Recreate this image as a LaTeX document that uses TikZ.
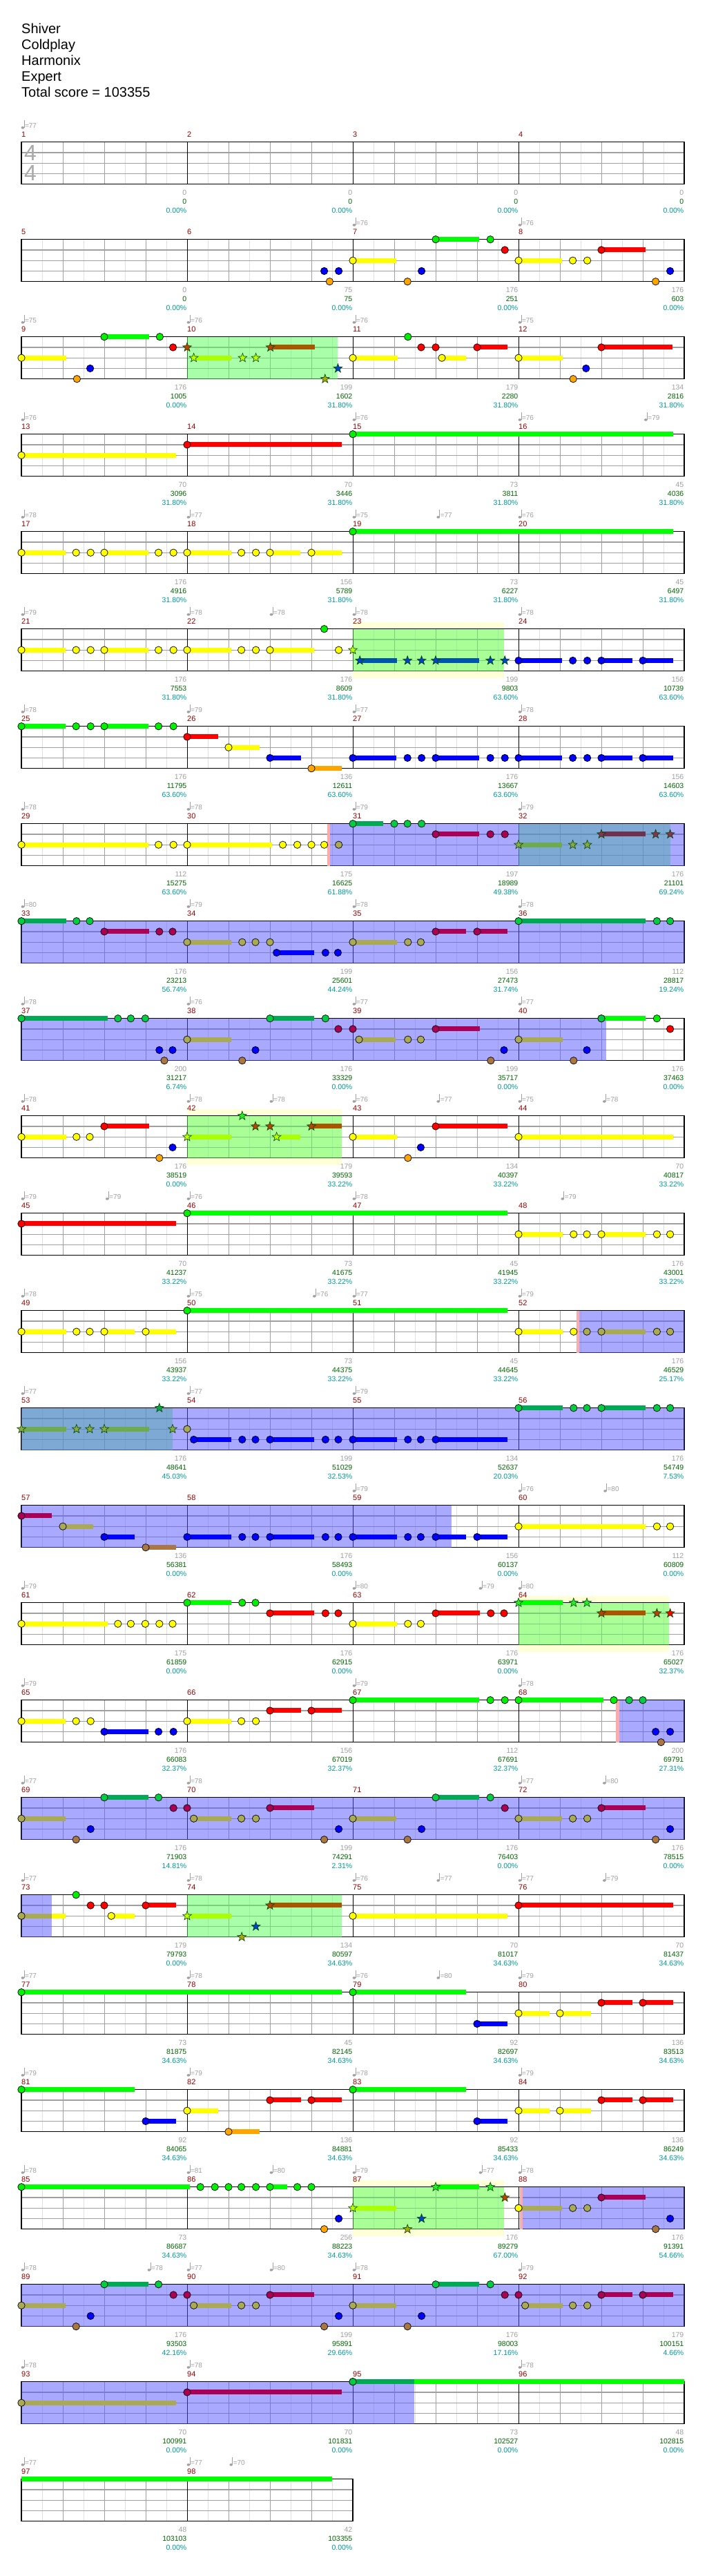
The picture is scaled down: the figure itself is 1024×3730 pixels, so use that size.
\documentclass[tikz,border=0pt]{standalone}
\usepackage{fontspec}
\setmainfont{Liberation Sans}
\usepackage{tikz}

% lane colours: N plain, O overdrive, S star phrase, T star phrase in overdrive
\definecolor{gemN0}{HTML}{00F000}\definecolor{gemN1}{HTML}{FF0000}\definecolor{gemN2}{HTML}{FFFF00}
\definecolor{gemN3}{HTML}{0000FF}\definecolor{gemN4}{HTML}{FFA500}
\definecolor{gemO0}{HTML}{00CC44}\definecolor{gemO1}{HTML}{AA0055}\definecolor{gemO2}{HTML}{AAAA55}
\definecolor{gemO3}{HTML}{0000FF}\definecolor{gemO4}{HTML}{AA7744}
\definecolor{gemS0}{HTML}{22EE22}\definecolor{gemS1}{HTML}{BB4400}\definecolor{gemS2}{HTML}{BBFF00}
\definecolor{gemS3}{HTML}{0044CC}\definecolor{gemS4}{HTML}{AAAA00}
\definecolor{gemT0}{HTML}{00AA44}\definecolor{gemT1}{HTML}{883355}\definecolor{gemT2}{HTML}{88AA44}
\definecolor{gemT3}{HTML}{0033AA}\definecolor{gemT4}{HTML}{888844}
\definecolor{susN0}{HTML}{00FF00}\definecolor{susN1}{HTML}{FF0000}\definecolor{susN2}{HTML}{FFFF00}
\definecolor{susN3}{HTML}{0000FF}\definecolor{susN4}{HTML}{FFA500}
\definecolor{susO0}{HTML}{00AA55}\definecolor{susO1}{HTML}{AA0055}\definecolor{susO2}{HTML}{AAAA55}
\definecolor{susO3}{HTML}{0000FF}\definecolor{susO4}{HTML}{AA7744}
\definecolor{susS0}{HTML}{00FF00}\definecolor{susS1}{HTML}{AA5500}\definecolor{susS2}{HTML}{AAFF00}
\definecolor{susS3}{HTML}{0055AA}\definecolor{susS4}{HTML}{AAAA00}
\definecolor{susT0}{HTML}{00AA55}\definecolor{susT1}{HTML}{6E3250}\definecolor{susT2}{HTML}{6EAA50}
\definecolor{susT3}{HTML}{0044AA}\definecolor{susT4}{HTML}{888844}
\definecolor{gridlight}{HTML}{E0E0E0}
\definecolor{gridmid}{HTML}{A0A0A0}
\definecolor{spgreen}{HTML}{55FF55}
\definecolor{odblue}{HTML}{5555FF}
\definecolor{bandyellow}{HTML}{FFFFD8}
\definecolor{odpink}{HTML}{FFAAAA}
\definecolor{stargreen}{HTML}{004400}
\definecolor{barred}{HTML}{990000}
\definecolor{labelgray}{HTML}{A0A0A0}
\definecolor{scoregreen}{HTML}{006600}
\definecolor{pctteal}{HTML}{009999}
\definecolor{siggray}{HTML}{AAAAAA}

\tikzset{
  halfline/.style={draw=gridlight, line width=0.8pt},
  beatline/.style={draw=gridmid, line width=1pt},
  laneline/.style={draw=gridmid, line width=1.3pt},
  barline/.style={draw=black, line width=0.9pt},
  staffbox/.style={draw=black, line width=1.4pt},
  gemline/.style={draw=black, line width=0.7pt},
  starline/.style={draw=stargreen, line width=0.6pt},
  spfill/.style={fill=spgreen, fill opacity=0.5},
  odfill/.style={fill=odblue, fill opacity=0.5},
  titletxt/.style={anchor=base west, inner sep=0pt, font=\fontsize{20}{24}\selectfont},
  barnum/.style={anchor=base west, inner sep=0pt, text=barred, font=\fontsize{11}{13}\selectfont},
  gaintxt/.style={anchor=base east, inner sep=0pt, text=labelgray, font=\fontsize{10.5}{12}\selectfont},
  scoretxt/.style={anchor=base east, inner sep=0pt, text=scoregreen, font=\fontsize{10.5}{12}\selectfont},
  pcttxt/.style={anchor=base east, inner sep=0pt, text=pctteal, font=\fontsize{10.5}{12}\selectfont},
  tempotxt/.style={anchor=base west, inner sep=0pt, text=labelgray, font=\fontsize{10}{12}\selectfont},
  sigtxt/.style={inner sep=0pt, text=siggray, font=\fontsize{32}{32}\selectfont},
  rowat/.style={shift={(31,{205.7+141*(#1-1)})}}
}

% staff of #1 bars
\newcommand{\staffgrid}[1]{%
  \pgfmathtruncatemacro\hb{4*#1-1}
  \foreach \k in {0,...,\hb} {\draw[halfline] ({30+60*\k},0) -- ({30+60*\k},61);}
  \foreach \k in {1,...,\hb} {\draw[beatline] ({60*\k},0) -- ({60*\k},61);}
  \foreach \y in {15.25,30.5,45.75} {\draw[laneline] (0,\y) -- ({240*#1},\y);}
  \pgfmathtruncatemacro\mb{#1-1}
  \foreach \k in {1,...,\mb} {\draw[barline] ({240*\k},0) -- ({240*\k},61);}
  \draw[staffbox] (0,0) rectangle ({240*#1},61);
}
\newcommand{\band}[2]{\fill[bandyellow] ({#1*60},-10) rectangle ({#2*60},71);}
\newcommand{\spzone}[2]{\fill[spfill] ({#1*60},0) rectangle ({#2*60},61);}
\newcommand{\odzone}[2]{\fill[odfill] ({#1*60},0) rectangle ({#2*60},61);}
\newcommand{\odmark}[1]{\fill[odpink] ({#1*60-4.5},0) rectangle ({#1*60},61);}
% gems: mode, lane, beat (, end of sustain)
\newcommand{\gem}[3]{\filldraw[gemline, fill=gem#1#2] ({#3*60},{#2*15.25}) circle[radius=5.2];}
\newcommand{\gemsus}[4]{\fill[sus#1#2] ({#3*60},{#2*15.25-3.5}) rectangle ({#4*60},{#2*15.25+3.5});\gem{#1}{#2}{#3}}
\newcommand{\stg}[3]{\filldraw[starline, fill=gem#1#2] ({#3*60},{#2*15.25})
  +(-90:6.8) -- +(-54:2.8) -- +(-18:6.8) -- +(18:2.8) -- +(54:6.8) -- +(90:2.8)
  -- +(126:6.8) -- +(162:2.8) -- +(198:6.8) -- +(234:2.8) -- cycle;}
\newcommand{\stgsus}[4]{\fill[sus#1#2] ({#3*60},{#2*15.25-3.5}) rectangle ({#4*60},{#2*15.25+3.5});\stg{#1}{#2}{#3}}
\newcounter{tempono}
\newcommand{\tempo}[2]{%
  \stepcounter{tempono}%
  \fill[labelgray] ({#1*60+1.9},-20.8) ellipse[x radius=2.3, y radius=1.8];
  \draw[labelgray, line width=0.7pt] ({#1*60+4},-21) -- ({#1*60+4},-31.3);
  \node[tempotxt] (tempo\thetempono) at ({#1*60+4.8},-20.6) {=#2};
}
\newcommand{\barlabels}[2]{%
  \foreach \gainv/\scorev/\pctv [count=\k from 0] in {#2} {
    \pgfmathtruncatemacro\barno{#1+\k}
    \node[barnum] (bar\barno) at ({240*\k},-7.3) {\barno};
    \node[gaintxt] (gain\barno) at ({240*\k+239.5},76.7) {\gainv};
    \node[scoretxt] (score\barno) at ({240*\k+239.5},89.7) {\scorev};
    \node[pcttxt] (pct\barno) at ({240*\k+239.5},102.7) {\pctv};
  }
}

\begin{document}
\begin{tikzpicture}[x=1pt, y=-1pt]
  \useasboundingbox[fill=white] (0,0) rectangle (1024,3730);
  \node[titletxt] (song) at (31,49) {Shiver};
  \node[titletxt] (artist) at (31,72) {Coldplay};
  \node[titletxt] (charter) at (31,95) {Harmonix};
  \node[titletxt] (level) at (31,118) {Expert};
  \node[titletxt] (total) at (31,141) {Total score = 103355};

  % bars 1-4
  \begin{scope}[rowat=1]
    \staffgrid{4}
    \node[sigtxt] (sigtop) at (13,15.5) {4};
    \node[sigtxt] (sigbot) at (13,44.5) {4};
    \tempo{0}{77}
    \barlabels{1}{0/0/0.00\%,0/0/0.00\%,0/0/0.00\%,0/0/0.00\%}
  \end{scope}

  % bars 5-8
  \begin{scope}[rowat=2]
    \staffgrid{4}
    \gem{N}{3}{7.31}\gem{N}{4}{7.44}\gem{N}{3}{7.66}
    \gemsus{N}{2}{8}{9.05}\gem{N}{4}{9.32}\gem{N}{3}{9.66}
    \gemsus{N}{0}{10}{11.05}\gem{N}{0}{11.32}\gem{N}{1}{11.67}
    \gemsus{N}{2}{12}{13.05}\gem{N}{2}{13.31}\gem{N}{2}{13.66}
    \gemsus{N}{1}{14}{15.06}\gem{N}{4}{15.31}\gem{N}{3}{15.66}
    \tempo{8}{76}\tempo{12}{76}
    \barlabels{5}{0/0/0.00\%,75/75/0.00\%,176/251/0.00\%,176/603/0.00\%}
  \end{scope}

  % bars 9-12
  \begin{scope}[rowat=3]
    \staffgrid{4}
    \spzone{4}{7.64}
    \gemsus{N}{2}{0}{1.08}\gem{N}{4}{1.34}\gem{N}{3}{1.66}
    \gemsus{N}{0}{2}{3.08}\gem{N}{0}{3.34}\gem{N}{1}{3.66}
    \stg{S}{1}{4}\stgsus{S}{2}{4.16}{5.07}\stg{S}{2}{5.34}\stg{S}{2}{5.66}
    \stgsus{S}{1}{6.01}{7.08}\stg{S}{4}{7.33}\stg{S}{3}{7.64}
    \gemsus{N}{2}{8}{9.08}\gem{N}{0}{9.33}\gem{N}{1}{9.65}\gem{N}{1}{10}
    \gemsus{N}{2}{10.15}{10.74}\gemsus{N}{1}{11}{11.74}
    \gemsus{N}{2}{12}{13.07}\gem{N}{4}{13.32}\gem{N}{3}{13.63}\gemsus{N}{1}{14}{15.72}
    \tempo{0}{75}\tempo{4}{76}\tempo{8}{76}\tempo{12}{75}
    \barlabels{9}{176/1005/0.00\%,199/1602/31.80\%,179/2280/31.80\%,134/2816/31.80\%}
  \end{scope}

  % bars 13-16
  \begin{scope}[rowat=4]
    \staffgrid{4}
    \gemsus{N}{2}{0}{3.73}\gemsus{N}{1}{4}{7.74}\gemsus{N}{0}{8}{15.73}
    \tempo{0}{76}\tempo{8}{76}\tempo{12}{76}\tempo{15.04}{79}
    \barlabels{13}{70/3096/31.80\%,70/3446/31.80\%,73/3811/31.80\%,45/4036/31.80\%}
  \end{scope}

  % bars 17-20
  \begin{scope}[rowat=5]
    \staffgrid{4}
    \gemsus{N}{2}{0}{1.06}\gem{N}{2}{1.32}\gem{N}{2}{1.67}
    \gemsus{N}{2}{2}{3.06}\gem{N}{2}{3.31}\gem{N}{2}{3.67}
    \gemsus{N}{2}{4}{5.06}\gem{N}{2}{5.31}\gem{N}{2}{5.66}
    \gemsus{N}{2}{6}{6.74}\gemsus{N}{2}{7}{7.74}
    \gemsus{N}{0}{8}{15.73}
    \tempo{0}{78}\tempo{4}{77}\tempo{8}{75}\tempo{10.03}{77}\tempo{12}{76}
    \barlabels{17}{176/4916/31.80\%,156/5789/31.80\%,73/6227/31.80\%,45/6497/31.80\%}
  \end{scope}

  % bars 21-24
  \begin{scope}[rowat=6]
    \band{8}{11.65}
    \staffgrid{4}
    \spzone{8}{11.65}
    \gemsus{N}{2}{0}{1.06}\gem{N}{2}{1.32}\gem{N}{2}{1.67}
    \gemsus{N}{2}{2}{3.06}\gem{N}{2}{3.31}\gem{N}{2}{3.67}
    \gemsus{N}{2}{4}{5.06}\gem{N}{2}{5.31}\gem{N}{2}{5.66}
    \gemsus{N}{2}{6}{7.06}\gem{N}{0}{7.31}\gem{N}{2}{7.66}
    \stg{S}{2}{8}\stgsus{S}{3}{8.17}{9.07}\stg{S}{3}{9.32}\stg{S}{3}{9.66}
    \stgsus{S}{3}{10}{11.05}\stg{S}{3}{11.32}\stg{S}{3}{11.67}
    \gemsus{N}{3}{12}{13.05}\gem{N}{3}{13.31}\gem{N}{3}{13.66}
    \gemsus{N}{3}{14}{14.75}\gemsus{N}{3}{15}{15.73}
    \tempo{0}{79}\tempo{4}{78}\tempo{6}{78}\tempo{8}{78}\tempo{12}{78}
    \barlabels{21}{176/7553/31.80\%,176/8609/31.80\%,199/9803/63.60\%,156/10739/63.60\%}
  \end{scope}

  % bars 25-28
  \begin{scope}[rowat=7]
    \staffgrid{4}
    \gemsus{N}{0}{0}{1.06}\gem{N}{0}{1.32}\gem{N}{0}{1.67}
    \gemsus{N}{0}{2}{3.06}\gem{N}{0}{3.31}\gem{N}{0}{3.67}
    \gemsus{N}{1}{4}{4.75}\gemsus{N}{2}{5}{5.75}\gemsus{N}{3}{6}{6.75}\gemsus{N}{4}{7}{7.74}
    \gemsus{N}{3}{8}{9.05}\gem{N}{3}{9.32}\gem{N}{3}{9.66}
    \gemsus{N}{3}{10}{11.05}\gem{N}{3}{11.32}\gem{N}{3}{11.67}
    \gemsus{N}{3}{12}{13.05}\gem{N}{3}{13.31}\gem{N}{3}{13.66}
    \gemsus{N}{3}{14}{14.75}\gemsus{N}{3}{15}{15.73}
    \tempo{0}{78}\tempo{4}{79}\tempo{8}{77}\tempo{12}{78}
    \barlabels{25}{176/11795/63.60\%,136/12611/63.60\%,176/13667/63.60\%,156/14603/63.60\%}
  \end{scope}

  % bars 29-32
  \begin{scope}[rowat=8]
    \staffgrid{4}
    \spzone{12}{15.66}
    \odzone{7.45}{16}\odmark{7.45}
    \gemsus{N}{2}{0}{3.06}\gem{N}{2}{3.31}\gem{N}{2}{3.67}
    \gemsus{N}{2}{4}{6.05}\gem{N}{2}{6.31}\gem{N}{2}{6.66}\gem{N}{2}{7}\gem{N}{2}{7.31}\gem{O}{2}{7.66}
    \gemsus{O}{0}{8}{8.73}\gem{O}{0}{9}\gem{O}{0}{9.32}\gem{O}{0}{9.66}
    \gemsus{O}{1}{10}{11.05}\gem{O}{1}{11.32}\gem{O}{1}{11.67}
    \stgsus{T}{2}{12}{13.05}\stg{T}{2}{13.31}\stg{T}{2}{13.66}
    \stgsus{T}{1}{14}{15.06}\stg{T}{1}{15.31}\stg{T}{1}{15.66}
    \tempo{0}{78}\tempo{4}{78}\tempo{8}{79}\tempo{12}{79}
    \barlabels{29}{112/15275/63.60\%,175/16625/61.88\%,197/18989/49.38\%,176/21101/69.24\%}
  \end{scope}

  % bars 33-36
  \begin{scope}[rowat=9]
    \staffgrid{4}
    \odzone{0}{16}
    \gemsus{O}{0}{0}{1.08}\gem{O}{0}{1.33}\gem{O}{0}{1.65}
    \gemsus{O}{1}{2}{3.08}\gem{O}{1}{3.33}\gem{O}{1}{3.65}
    \gemsus{O}{2}{4}{5.07}\gem{O}{2}{5.33}\gem{O}{2}{5.65}\gem{O}{2}{6}
    \gemsus{O}{3}{6.16}{7.06}\gem{O}{3}{7.34}\gem{O}{3}{7.64}
    \gemsus{O}{2}{8}{9.07}\gem{O}{2}{9.33}\gem{O}{2}{9.64}
    \gemsus{O}{1}{10}{10.74}\gemsus{O}{1}{11}{11.74}
    \gemsus{O}{0}{12}{15.07}\gem{O}{0}{15.34}\gem{O}{0}{15.66}
    \tempo{0}{80}\tempo{4}{79}\tempo{8}{78}\tempo{12}{78}
    \barlabels{33}{176/23213/56.74\%,199/25601/44.24\%,156/27473/31.74\%,112/28817/19.24\%}
  \end{scope}

  % bars 37-40
  \begin{scope}[rowat=10]
    \staffgrid{4}
    \odzone{0}{14.12}
    \gemsus{O}{0}{0}{2.08}\gem{O}{0}{2.33}\gem{O}{0}{2.64}\gem{O}{0}{2.99}
    \gem{O}{3}{3.33}\gem{O}{4}{3.45}\gem{O}{3}{3.65}
    \gemsus{O}{2}{4}{5.07}\gem{O}{4}{5.33}\gem{O}{3}{5.65}
    \gemsus{O}{0}{6}{7.06}\gem{O}{0}{7.34}\gem{O}{1}{7.65}\gem{O}{1}{8}
    \gemsus{O}{2}{8.15}{9.04}\gem{O}{2}{9.33}\gem{O}{2}{9.64}
    \gemsus{O}{1}{10}{11.07}\gem{O}{4}{11.33}\gem{O}{3}{11.65}
    \gemsus{O}{2}{12}{13.07}\gem{O}{4}{13.33}\gem{O}{3}{13.65}
    \gemsus{N}{0}{14}{15.07}\gem{O}{0}{14}\gem{N}{0}{15.34}\gem{N}{1}{15.66}
    \tempo{0}{78}\tempo{4}{76}\tempo{8}{77}\tempo{12}{77}
    \barlabels{37}{200/31217/6.74\%,176/33329/0.00\%,199/35717/0.00\%,176/37463/0.00\%}
  \end{scope}

  % bars 41-44
  \begin{scope}[rowat=11]
    \band{4}{7.73}
    \staffgrid{4}
    \spzone{4}{7.73}
    \gemsus{N}{2}{0}{1.08}\gem{N}{2}{1.33}\gem{N}{2}{1.65}
    \gemsus{N}{1}{2}{3.08}\gem{N}{4}{3.33}\gem{N}{3}{3.65}
    \stgsus{S}{2}{4}{5.07}\stg{S}{0}{5.33}\stg{S}{1}{5.65}\stg{S}{1}{6}
    \stgsus{S}{2}{6.16}{6.74}\stgsus{S}{1}{7}{7.74}
    \gemsus{N}{2}{8}{9.07}\gem{N}{4}{9.33}\gem{N}{3}{9.64}
    \gemsus{N}{1}{10}{11.74}\gemsus{N}{2}{12}{15.73}
    \tempo{0}{78}\tempo{4}{78}\tempo{6}{78}\tempo{8}{76}\tempo{10.03}{77}\tempo{12}{75}\tempo{14.04}{78}
    \barlabels{41}{176/38519/0.00\%,179/39593/33.22\%,134/40397/33.22\%,70/40817/33.22\%}
  \end{scope}

  % bars 45-48
  \begin{scope}[rowat=12]
    \staffgrid{4}
    \gemsus{N}{1}{0}{3.73}\gemsus{N}{0}{4}{11.74}
    \gemsus{N}{2}{12}{13.07}\gem{N}{2}{13.33}\gem{N}{2}{13.65}
    \gemsus{N}{2}{14}{15.07}\gem{N}{2}{15.34}\gem{N}{2}{15.66}
    \tempo{0}{79}\tempo{2.04}{79}\tempo{4}{76}\tempo{8}{78}\tempo{13.03}{79}
    \barlabels{45}{70/41237/33.22\%,73/41675/33.22\%,45/41945/33.22\%,176/43001/33.22\%}
  \end{scope}

  % bars 49-52
  \begin{scope}[rowat=13]
    \staffgrid{4}
    \odzone{13.47}{16}\odmark{13.47}
    \gemsus{N}{2}{0}{1.08}\gem{N}{2}{1.33}\gem{N}{2}{1.65}
    \gemsus{N}{2}{2}{2.73}\gemsus{N}{2}{3}{3.73}
    \gemsus{N}{0}{4}{11.74}
    \gemsus{N}{2}{12}{13.07}\gem{N}{2}{13.33}\gem{O}{2}{13.65}
    \gemsus{O}{2}{14}{15.07}\gem{O}{2}{15.34}\gem{O}{2}{15.66}
    \tempo{0}{78}\tempo{4}{75}\tempo{7.04}{76}\tempo{8}{77}\tempo{12}{79}
    \barlabels{49}{156/43937/33.22\%,73/44375/33.22\%,45/44645/33.22\%,176/46529/25.17\%}
  \end{scope}

  % bars 53-56
  \begin{scope}[rowat=14]
    \staffgrid{4}
    \spzone{0}{3.65}
    \odzone{0}{16}
    \stgsus{T}{2}{0}{1.08}\stg{T}{2}{1.33}\stg{T}{2}{1.65}
    \stgsus{T}{2}{2}{3.08}\stg{T}{0}{3.33}\stg{T}{2}{3.65}
    \gem{O}{2}{4}
    \gemsus{O}{3}{4.16}{5.06}\gem{O}{3}{5.33}\gem{O}{3}{5.65}
    \gemsus{O}{3}{6}{7.06}\gem{O}{3}{7.34}\gem{O}{3}{7.65}
    \gemsus{O}{3}{8}{9.07}\gem{O}{3}{9.33}\gem{O}{3}{9.64}
    \gemsus{O}{3}{10}{11.74}
    \gemsus{O}{0}{12}{13.07}\gem{O}{0}{13.33}\gem{O}{0}{13.65}
    \gemsus{O}{0}{14}{15.07}\gem{O}{0}{15.34}\gem{O}{0}{15.66}
    \tempo{0}{77}\tempo{4}{77}\tempo{8}{79}
    \barlabels{53}{176/48641/45.03\%,199/51029/32.53\%,134/52637/20.03\%,176/54749/7.53\%}
  \end{scope}

  % bars 57-60
  \begin{scope}[rowat=15]
    \staffgrid{4}
    \odzone{0}{10.39}
    \gemsus{O}{1}{0}{0.74}\gemsus{O}{2}{1}{1.74}\gemsus{O}{3}{2}{2.74}\gemsus{O}{4}{3}{3.74}
    \gemsus{O}{3}{4}{5.07}\gem{O}{3}{5.33}\gem{O}{3}{5.65}
    \gemsus{O}{3}{6}{7.06}\gem{O}{3}{7.34}\gem{O}{3}{7.65}
    \gemsus{O}{3}{8}{9.07}\gem{O}{3}{9.33}\gem{O}{3}{9.64}
    \gemsus{O}{3}{10}{10.74}\gemsus{N}{3}{11}{11.74}
    \gemsus{N}{2}{12}{15.07}\gem{N}{2}{15.34}\gem{N}{2}{15.66}
    \tempo{8}{79}\tempo{12}{76}\tempo{14.06}{80}
    \barlabels{57}{136/56381/0.00\%,176/58493/0.00\%,156/60137/0.00\%,112/60809/0.00\%}
  \end{scope}

  % bars 61-64
  \begin{scope}[rowat=16]
    \band{12}{15.64}
    \staffgrid{4}
    \spzone{12}{15.64}
    \gemsus{N}{2}{0}{2.08}\gem{N}{2}{2.33}\gem{N}{2}{2.64}\gem{N}{2}{2.99}\gem{N}{2}{3.33}\gem{N}{2}{3.65}
    \gemsus{N}{0}{4}{5.07}\gem{N}{0}{5.33}\gem{N}{0}{5.65}
    \gemsus{N}{1}{6}{7.06}\gem{N}{1}{7.34}\gem{N}{1}{7.65}
    \gemsus{N}{2}{8}{9.07}\gem{N}{2}{9.33}\gem{N}{2}{9.64}
    \gemsus{N}{1}{10}{11.07}\gem{N}{1}{11.33}\gem{N}{1}{11.65}
    \stgsus{S}{0}{12}{13.07}\stg{S}{0}{13.33}\stg{S}{0}{13.65}
    \stgsus{S}{1}{14}{15.07}\stg{S}{1}{15.34}\stg{N}{1}{15.66}
    \tempo{0}{79}\tempo{8}{80}\tempo{11.05}{79}\tempo{12}{80}
    \barlabels{61}{175/61859/0.00\%,176/62915/0.00\%,176/63971/0.00\%,176/65027/32.37\%}
  \end{scope}

  % bars 65-68
  \begin{scope}[rowat=17]
    \staffgrid{4}
    \odzone{14.43}{16}\odmark{14.43}
    \gemsus{N}{2}{0}{1.06}\gem{N}{2}{1.32}\gem{N}{2}{1.67}
    \gemsus{N}{3}{2}{3.06}\gem{N}{3}{3.31}\gem{N}{3}{3.67}
    \gemsus{N}{2}{4}{5.06}\gem{N}{2}{5.31}\gem{N}{2}{5.66}
    \gemsus{N}{1}{6}{6.75}\gemsus{N}{1}{7}{7.74}
    \gemsus{N}{0}{8}{11.05}\gem{N}{0}{11.32}\gem{N}{0}{11.67}
    \gemsus{N}{0}{12}{14.05}\gem{N}{0}{14.3}\gem{O}{0}{14.67}\gem{O}{0}{15}
    \gem{O}{3}{15.31}\gem{O}{4}{15.44}\gem{O}{3}{15.66}
    \tempo{0}{79}\tempo{8}{79}\tempo{12}{78}
    \barlabels{65}{176/66083/32.37\%,156/67019/32.37\%,112/67691/32.37\%,200/69791/27.31\%}
  \end{scope}

  % bars 69-72
  \begin{scope}[rowat=18]
    \staffgrid{4}
    \odzone{0}{16}
    \gemsus{O}{2}{0}{1.06}\gem{O}{4}{1.32}\gem{O}{3}{1.67}
    \gemsus{O}{0}{2}{3.06}\gem{O}{0}{3.31}\gem{O}{1}{3.67}\gem{O}{1}{4}
    \gemsus{O}{2}{4.16}{5.06}\gem{O}{2}{5.31}\gem{O}{2}{5.66}
    \gemsus{O}{1}{6}{7.06}\gem{O}{4}{7.31}\gem{O}{3}{7.66}
    \gemsus{O}{2}{8}{9.05}\gem{O}{4}{9.32}\gem{O}{3}{9.66}
    \gemsus{O}{0}{10}{11.05}\gem{O}{0}{11.32}\gem{O}{1}{11.67}
    \gemsus{O}{2}{12}{13.05}\gem{O}{2}{13.31}\gem{O}{2}{13.66}
    \gemsus{O}{1}{14}{15.06}\gem{O}{4}{15.31}\gem{O}{3}{15.66}
    \tempo{0}{77}\tempo{4}{78}\tempo{12}{77}\tempo{14.04}{80}
    \barlabels{69}{176/71903/14.81\%,199/74291/2.31\%,176/76403/0.00\%,176/78515/0.00\%}
  \end{scope}

  % bars 73-76
  \begin{scope}[rowat=19]
    \staffgrid{4}
    \odzone{0}{0.73}
    \spzone{4}{7.73}
    \gemsus{N}{2}{0}{1.06}\gemsus{O}{2}{0}{0.73}
    \gem{N}{0}{1.32}\gem{N}{1}{1.67}\gem{N}{1}{2}
    \gemsus{N}{2}{2.17}{2.73}\gemsus{N}{1}{3}{3.73}
    \stgsus{S}{2}{4}{5.06}\stg{S}{4}{5.32}\stg{S}{3}{5.66}\stgsus{S}{1}{6}{7.74}
    \gemsus{N}{2}{8}{11.74}\gemsus{N}{1}{12}{15.73}
    \tempo{0}{77}\tempo{4}{78}\tempo{8}{76}\tempo{10.03}{77}\tempo{12}{77}\tempo{14.04}{79}
    \barlabels{73}{179/79793/0.00\%,134/80597/34.63\%,70/81017/34.63\%,70/81437/34.63\%}
  \end{scope}

  % bars 77-80
  \begin{scope}[rowat=20]
    \staffgrid{4}
    \gemsus{N}{0}{0}{7.74}\gemsus{N}{0}{8}{10.74}\gemsus{N}{3}{11}{11.74}
    \gemsus{N}{2}{12}{12.75}\gemsus{N}{2}{13}{13.75}
    \gemsus{N}{1}{14}{14.75}\gemsus{N}{1}{15}{15.73}
    \tempo{0}{77}\tempo{4}{78}\tempo{8}{76}\tempo{10.03}{80}\tempo{12}{79}
    \barlabels{77}{73/81875/34.63\%,45/82145/34.63\%,92/82697/34.63\%,136/83513/34.63\%}
  \end{scope}

  % bars 81-84
  \begin{scope}[rowat=21]
    \staffgrid{4}
    \gemsus{N}{0}{0}{2.74}\gemsus{N}{3}{3}{3.73}\gemsus{N}{2}{4}{4.75}\gemsus{N}{4}{5}{5.75}
    \gemsus{N}{1}{6}{6.75}\gemsus{N}{1}{7}{7.74}
    \gemsus{N}{0}{8}{10.74}\gemsus{N}{3}{11}{11.74}
    \gemsus{N}{2}{12}{12.75}\gemsus{N}{2}{13}{13.75}
    \gemsus{N}{1}{14}{14.75}\gemsus{N}{1}{15}{15.73}
    \tempo{0}{79}\tempo{4}{79}\tempo{8}{78}\tempo{12}{79}
    \barlabels{81}{92/84065/34.63\%,136/84881/34.63\%,92/85433/34.63\%,136/86249/34.63\%}
  \end{scope}

  % bars 85-88
  \begin{scope}[rowat=22]
    \band{8}{11.65}
    \staffgrid{4}
    \spzone{8}{11.65}
    \odzone{12.1}{16}\odmark{12.1}
    \gemsus{N}{0}{0}{4.06}\gem{N}{0}{4.32}\gem{N}{0}{4.67}\gem{N}{0}{5}\gem{N}{0}{5.31}\gem{N}{0}{5.66}
    \gemsus{N}{0}{6}{6.41}\gem{N}{0}{6.66}\gem{N}{0}{7}
    \gem{N}{4}{7.31}\gem{N}{3}{7.66}
    \stgsus{S}{2}{8}{9.05}\stg{S}{4}{9.32}\stg{S}{3}{9.66}
    \stgsus{S}{0}{10}{11.05}\stg{S}{0}{11.32}\stg{S}{1}{11.67}
    \gemsus{O}{2}{12}{13.05}\gem{N}{2}{12}\gem{O}{2}{13.31}\gem{O}{2}{13.66}
    \gemsus{O}{1}{14}{15.06}\gem{O}{4}{15.31}\gem{O}{3}{15.66}
    \tempo{0}{78}\tempo{4}{81}\tempo{6}{80}\tempo{8}{79}\tempo{11.05}{77}\tempo{12}{78}
    \barlabels{85}{73/86687/34.63\%,256/88223/34.63\%,176/89279/67.00\%,176/91391/54.66\%}
  \end{scope}

  % bars 89-92
  \begin{scope}[rowat=23]
    \staffgrid{4}
    \odzone{0}{16}
    \gemsus{O}{2}{0}{1.06}\gem{O}{4}{1.32}\gem{O}{3}{1.67}
    \gemsus{O}{0}{2}{3.06}\gem{O}{0}{3.31}\gem{O}{1}{3.67}\gem{O}{1}{4}
    \gemsus{O}{2}{4.16}{5.06}\gem{O}{2}{5.31}\gem{O}{2}{5.66}
    \gemsus{O}{1}{6}{7.06}\gem{O}{4}{7.31}\gem{O}{3}{7.66}
    \gemsus{O}{2}{8}{9.05}\gem{O}{4}{9.32}\gem{O}{3}{9.66}
    \gemsus{O}{0}{10}{11.05}\gem{O}{0}{11.32}\gem{O}{1}{11.67}\gem{O}{1}{12}
    \gemsus{O}{2}{12.16}{13.07}\gem{O}{2}{13.31}\gem{O}{2}{13.66}
    \gemsus{O}{1}{14}{14.75}\gemsus{O}{1}{15}{15.73}
    \tempo{0}{78}\tempo{3.05}{78}\tempo{4}{77}\tempo{6}{80}\tempo{8}{78}\tempo{12}{79}
    \barlabels{89}{176/93503/42.16\%,199/95891/29.66\%,176/98003/17.16\%,179/100151/4.66\%}
  \end{scope}

  % bars 93-96
  \begin{scope}[rowat=24]
    \staffgrid{4}
    \odzone{0}{9.48}
    \gemsus{O}{2}{0}{3.73}\gemsus{O}{1}{4}{7.74}
    \gemsus{N}{0}{8}{16}\gemsus{O}{0}{8}{9.48}
    \tempo{0}{78}\tempo{4}{78}\tempo{12}{78}
    \barlabels{93}{70/100991/0.00\%,70/101831/0.00\%,73/102527/0.00\%,48/102815/0.00\%}
  \end{scope}

  % bars 97-98
  \begin{scope}[rowat=25]
    \staffgrid{2}
    \fill[susN0] (0,-3.5) rectangle (450,3.5);
    \tempo{0}{77}\tempo{4}{77}\tempo{5.03}{70}
    \barlabels{97}{48/103103/0.00\%,42/103355/0.00\%}
  \end{scope}
\end{tikzpicture}
\end{document}
